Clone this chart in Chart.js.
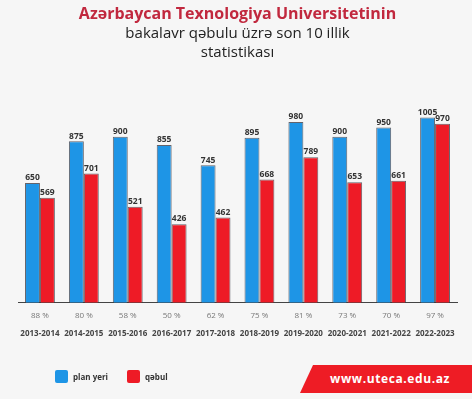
<!DOCTYPE html>
<html lang="az">
<head>
    <meta charset="UTF-8">
    <title>AzTU bakalavr qəbulu</title>
    <script src="https://cdn.jsdelivr.net/npm/chart.js"></script>
    <style>
        html, body { margin: 0; padding: 0; }
        body { width: 472px; height: 399px; background: #f6f6f6; position: relative; overflow: hidden; font-family: 'Open Sans', sans-serif; }
        #wrap { position: absolute; left: 0; top: 0; width: 472px; height: 399px; }
        .legend { position: absolute; top: 370px; left: 55px; display: flex; align-items: center; font-size: 8px; font-weight: bold; color: #333; }
        .legend span.box { display: inline-block; width: 13px; height: 13px; border-radius: 2px; margin-right: 5px; }
        .legend span.txt { margin-right: 19px; }
        .banner { position: absolute; left: 300px; top: 365px; width: 172px; height: 28px; background: #ee1c25;
                  clip-path: polygon(13px 0, 100% 0, 100% 100%, 0 100%); color: #fff; font-size: 12px; font-weight: bold;
                  letter-spacing: 0.6px; line-height: 28px; text-align: center; padding-left: 8px; box-sizing: border-box; }
    </style>
</head>
<body>
    <div id="wrap"><canvas id="chart" width="472" height="399"></canvas></div>
    <div class="legend" id="legend"></div>
    <div class="banner">www.uteca.edu.az</div>

    <script>
        // data
        const years = ['2013-2014', '2014-2015', '2015-2016', '2016-2017', '2017-2018',
                       '2018-2019', '2019-2020', '2020-2021', '2021-2022', '2022-2023'];
        const planYeri = [650, 875, 900, 855, 745, 895, 980, 900, 950, 1005];
        const qebul = [569, 701, 521, 426, 462, 668, 789, 653, 661, 970];
        const percents = ['88 %', '80 %', '58 %', '50 %', '62 %', '75 %', '81 %', '73 %', '70 %', '97 %'];

        const blue = '#1e95e6';
        const red = '#ee1b26';

        // value labels above the bars
        const valueLabels = {
            id: 'valueLabels',
            afterDatasetsDraw(chart) {
                const ctx = chart.ctx;
                ctx.save();
                ctx.font = 'bold 8.5px "Open Sans", sans-serif';
                ctx.fillStyle = '#333';
                ctx.textAlign = 'center';
                ctx.textBaseline = 'bottom';
                chart.data.datasets.forEach((ds, di) => {
                    chart.getDatasetMeta(di).data.forEach((bar, i) => {
                        ctx.fillText(ds.data[i], bar.x, bar.y - 1);
                    });
                });
                ctx.restore();
            }
        };

        const chart = new Chart(document.getElementById('chart'), {
            type: 'bar',
            data: {
                labels: percents,
                datasets: [
                    { label: 'plan yeri', data: planYeri, backgroundColor: blue },
                    { label: 'qəbul', data: qebul, backgroundColor: red }
                ]
            },
            options: {
                responsive: false,
                animation: false,
                layout: { padding: { left: 18, right: 15, top: 5, bottom: 59 } },
                datasets: {
                    bar: {
                        categoryPercentage: 0.68,
                        barPercentage: 1.0,
                        borderColor: 'rgba(50,50,60,0.75)',
                        borderWidth: 1,
                        borderSkipped: 'bottom'
                    }
                },
                plugins: {
                    legend: { display: false },
                    tooltip: { enabled: false },
                    title: {
                        display: true,
                        text: 'Azərbaycan Texnologiya Universitetinin',
                        color: '#c1283e',
                        font: { family: 'Open Sans', size: 16, weight: 'bold' },
                        padding: { top: 0, bottom: 0 }
                    },
                    subtitle: {
                        display: true,
                        text: ['bakalavr qəbulu üzrə son 10 illik', 'statistikası'],
                        color: '#222',
                        font: { family: 'Open Sans', size: 15, weight: 'normal', lineHeight: 1.25 },
                        padding: { top: 0, bottom: 40 }
                    }
                },
                scales: {
                    y: { display: false, min: 0, max: 1090 },
                    x: {
                        grid: { display: false, drawTicks: false },
                        border: { display: true, color: '#444', width: 1 },
                        ticks: { color: '#777', font: { family: 'Open Sans', size: 8 }, padding: 8, maxRotation: 0, autoSkip: false }
                    },
                    x2: {
                        type: 'category',
                        labels: years,
                        position: 'bottom',
                        grid: { display: false, drawTicks: false },
                        border: { display: false },
                        ticks: { color: '#444', font: { family: 'Open Sans', size: 8, weight: 'bold' }, padding: 1, maxRotation: 0, autoSkip: false }
                    }
                }
            },
            plugins: [valueLabels]
        });

        // legend from the datasets
        const legend = document.getElementById('legend');
        chart.data.datasets.forEach(ds => {
            legend.insertAdjacentHTML('beforeend',
                '<span class="box" style="background:' + ds.backgroundColor + '"></span><span class="txt">' + ds.label + '</span>');
        });
    </script>
</body>
</html>
